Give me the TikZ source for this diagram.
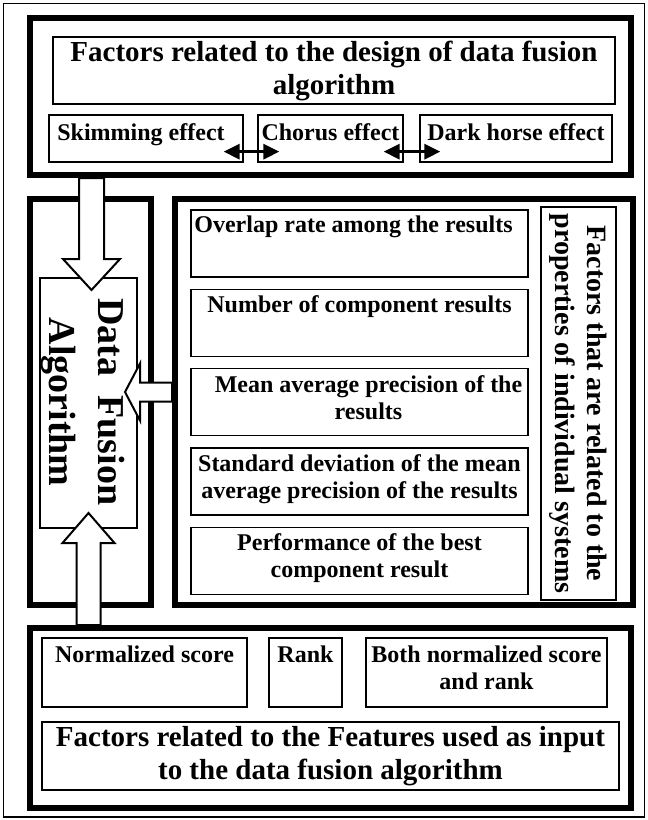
\documentclass[tikz,border=0pt]{standalone}
\usepackage{fontspec}
\setmainfont{Liberation Serif}
\usetikzlibrary{arrows.meta,positioning}

\newcommand{\fontTitle}{\bfseries\fontsize{29}{33}\selectfont}
\newcommand{\fontItem}{\bfseries\fontsize{24}{27}\selectfont}
\newcommand{\fontSide}{\bfseries\fontsize{28}{32}\selectfont}
\newcommand{\fontAlgo}{\bfseries\fontsize{38}{48.5}\selectfont}

\tikzset{
  frame/.style={draw, line width=6pt, inner sep=0pt},
  titlebox/.style={draw, line width=2.5pt, inner sep=0pt, align=center, font=\fontTitle},
  itembox/.style={draw, line width=1.3pt, inner sep=0pt},
  intext/.style={anchor=north, align=center, inner sep=0pt, yshift=-7pt, font=\fontItem},
  blockarrow/.style={draw, line width=2pt, fill=white, line join=miter},
  linkarrow/.style={line width=3pt, {Triangle[length=16pt,width=15pt]}-{Triangle[length=16pt,width=15pt]}}
}

\begin{document}
\begin{tikzpicture}[x=1pt, y=-1pt]
\useasboundingbox (0,0) rectangle (648,820);
\draw[line width=1.2pt] (3.5,3.5) rectangle (644.5,817);

% design of the algorithm
\node[frame, minimum width=601pt, minimum height=157pt] (design) at (330.5,96.5) {};
\node[titlebox, minimum width=562pt, minimum height=67pt] (designTitle) at (334,70.5)
  {Factors related to the design of data fusion\\algorithm};
\node[itembox, minimum width=194pt, minimum height=47pt,
  label={[intext, yshift=-2pt, xshift=-5pt]above:Skimming effect}] (skim) at (146,138.5) {};
\node[itembox, minimum width=145pt, minimum height=47pt,
  label={[intext, yshift=-2pt]above:Chorus effect}] (chorus) at (330.5,138.5) {};
\node[itembox, minimum width=192pt, minimum height=47pt,
  label={[intext, yshift=-2pt]above:Dark horse effect}] (darkHorse) at (516,138.5) {};

\draw[linkarrow] ([xshift=-20pt, yshift=11pt]skim.south east) -- ([xshift=22pt, yshift=11pt]chorus.south west);
\draw[linkarrow] ([xshift=-20pt, yshift=11pt]chorus.south east) -- ([xshift=21pt, yshift=11pt]darkHorse.south west);

% algorithm and individual systems
\node[frame, minimum width=121pt, minimum height=406pt] (dfFrame) at (90.5,402) {};
\node[frame, minimum width=458pt, minimum height=406pt] (sysFrame) at (404,402) {};
\node[itembox, minimum width=97pt, minimum height=250pt] (dfa) at (88.5,403) {};
\node[rotate=-90, align=center, inner sep=0pt, font=\fontAlgo] (dfaText) at (83,402) {Data~~Fusion\\Algorithm};

\node[itembox, minimum width=337pt, minimum height=67pt,
  label={[intext, xshift=-6pt, yshift=1pt]above:Overlap rate among the results}] (overlap) at (359.5,243.5) {};
\node[itembox, minimum width=337pt, minimum height=67pt, below=11pt of overlap,
  label={[intext]above:Number of component results}] (number) {};
\node[itembox, minimum width=337pt, minimum height=67pt, below=11pt of number,
  label={[intext, xshift=9pt]above:Mean average precision of the\\results}] (mapBox) {};
\node[itembox, minimum width=337pt, minimum height=67pt, below=11pt of mapBox,
  label={[intext]above:Standard deviation of the mean\\average precision of the results}] (stdBox) {};
\node[itembox, minimum width=337pt, minimum height=67pt, below=11pt of stdBox,
  label={[intext]above:Performance of the best\\component result}] (best) {};

\node[draw, line width=2.5pt, rotate=-90, minimum width=393pt, minimum height=75pt, inner sep=0pt,
  align=center, font=\fontSide] (sysTitle) at (578.5,403.5) {Factors that are related to the\\properties of individual systems};

% features used as input
\node[frame, minimum width=601pt, minimum height=180pt] (inputs) at (330.5,718) {};
\node[itembox, minimum width=205pt, minimum height=69pt,
  label={[intext, yshift=-1.5pt]above:Normalized score}] (normScore) at (144.5,672.5) {};
\node[itembox, minimum width=73pt, minimum height=69pt,
  label={[intext, yshift=-1.5pt]above:Rank}] (rank) at (305.5,672.5) {};
\node[itembox, minimum width=241pt, minimum height=69pt,
  label={[intext, yshift=-1.5pt]above:Both normalized score\\and rank}] (both) at (486.5,672.5) {};
\node[itembox, align=center, font=\fontTitle, minimum width=577pt, minimum height=68pt] (inputsTitle) at (330.5,756)
  {Factors related to the Features used as input\\to the data fusion algorithm};

% block arrows into the algorithm
\path (dfa.north |- design.south) ++(3,0) coordinate (downTop);
\draw[blockarrow, shift={(downTop)}] (-12.5,0) -- (-12.5,81) -- (-28.5,81) -- (0,112) -- (28.5,81) -- (12.5,81) -- (12.5,0) -- cycle;
\path (dfa.south |- inputs.north) coordinate (upBase);
\draw[blockarrow, shift={(upBase)}] (-12,0) -- (-12,-82) -- (-26,-82) -- (0,-112) -- (26,-82) -- (12,-82) -- (12,0) -- cycle;
\path (sysFrame.west) ++(0,-10) coordinate (leftBase);
\draw[blockarrow, shift={(leftBase)}] (0,-9.5) -- (-32,-9.5) -- (-32,-28.5) -- (-47,0) -- (-32,28.5) -- (-32,9.5) -- (0,9.5) -- cycle;
\end{tikzpicture}
\end{document}
